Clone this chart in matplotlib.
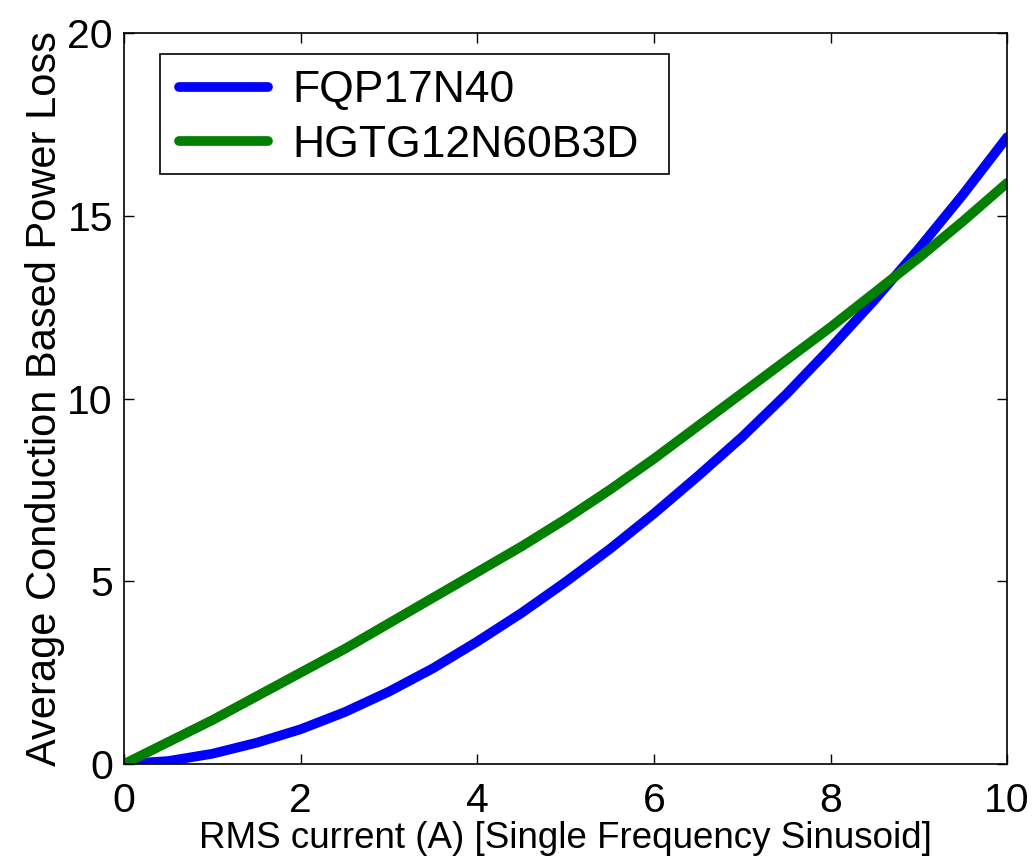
import matplotlib
matplotlib.use('Agg')
import matplotlib.pyplot as plt
from matplotlib.patches import Rectangle

# RMS current (A)
current = [0, 0.5, 1, 1.5, 2, 2.5, 3, 3.5, 4, 4.5, 5,
           5.5, 6, 6.5, 7, 7.5, 8, 8.5, 9, 9.5, 10]
# average conduction loss
loss_fqp = [0, 0.08, 0.28, 0.58, 0.95, 1.42, 1.98, 2.62, 3.35, 4.13, 4.98,
            5.88, 6.85, 7.88, 8.95, 10.12, 11.38, 12.7, 14.1, 15.58, 17.15]
loss_hgtg = [0, 0.6, 1.2, 1.85, 2.5, 3.15, 3.85, 4.55, 5.25, 5.95, 6.7,
             7.5, 8.35, 9.25, 10.15, 11.05, 11.95, 12.9, 13.85, 14.85, 15.9]
series_names = ['FQP17N40', 'HGTG12N60B3D']
x_ticks = [0, 2, 4, 6, 8, 10]
y_ticks = [0, 5, 10, 15, 20]

plt.rcParams['font.family'] = ['Liberation Sans', 'DejaVu Sans']

fig = plt.figure(figsize=(10.34, 8.65), dpi=100)
ax = fig.add_axes([0.12, 0.1168, 0.854, 0.845])

ax.plot(current, loss_fqp, color='#0000ff', lw=7, label=series_names[0],
        solid_capstyle='round', solid_joinstyle='round')
ax.plot(current, loss_hgtg, color='#007f00', lw=7, label=series_names[1],
        solid_capstyle='round', solid_joinstyle='round')

ax.set_xlim(0, 10)
ax.set_ylim(0, 20)
ax.set_xticks(x_ticks)
ax.set_yticks(y_ticks)
ax.tick_params(direction='in', top=True, right=True, length=7, width=1,
               labelsize=29.5)
ax.tick_params(axis='x', pad=13)
ax.tick_params(axis='y', pad=8)
for s in ax.spines.values():
    s.set_linewidth(1.2)

ax.set_xlabel('RMS current (A) [Single Frequency Sinusoid]', fontsize=26.5, labelpad=1)
ax.set_ylabel('Average Conduction Based Power Loss', fontsize=30, labelpad=2)

# legend entries without frame, box drawn separately (matlab style padding)
leg = ax.legend(loc='upper left', bbox_to_anchor=(0.062, 0.949), fontsize=32,
                frameon=False, handlelength=2.0, handletextpad=0.55,
                labelspacing=0.3, borderpad=0, borderaxespad=0)
for h in leg.legend_handles:
    h.set_solid_capstyle('round')
ax.add_patch(Rectangle((0.0408, 0.807), 0.576, 0.164, transform=ax.transAxes,
                       facecolor='white', edgecolor='black', lw=1.2, zorder=4))
leg.set_zorder(5)

fig.savefig('out.png', dpi=100)
